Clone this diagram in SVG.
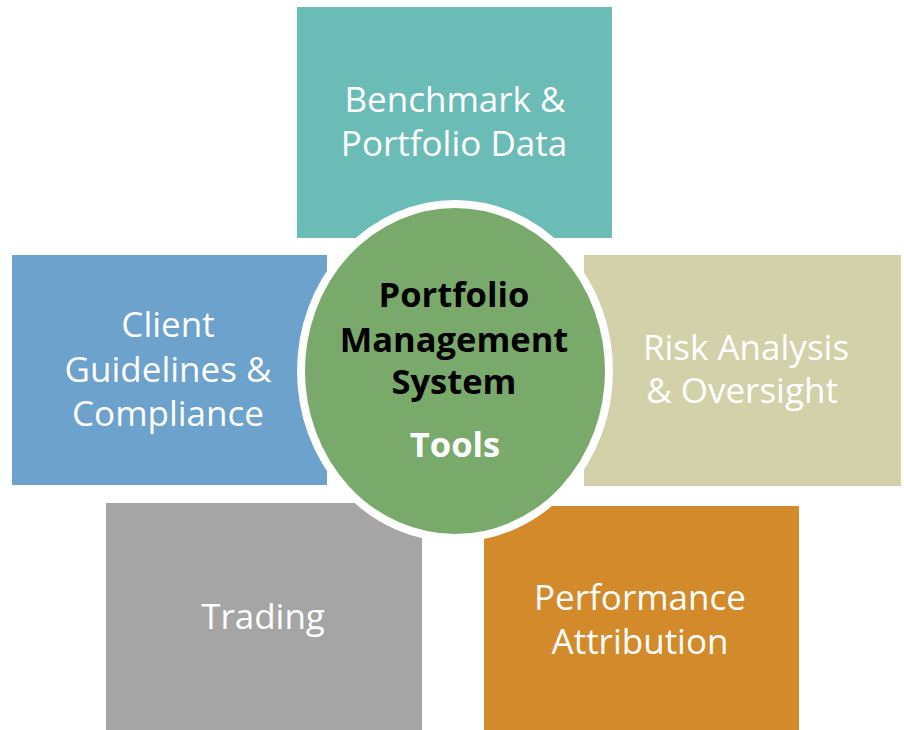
<svg xmlns="http://www.w3.org/2000/svg" width="904" height="730" viewBox="0 0 904 730">
<style>
.lbl{font-family:"Open Sans","Noto Sans","Liberation Sans",sans-serif;font-size:35px;fill:#fff;text-anchor:middle}
.ctr{font-family:"Open Sans","Noto Sans","Liberation Sans",sans-serif;font-size:34.5px;font-weight:bold;text-anchor:middle}
</style>
<rect width="904" height="730" fill="#fff"/>
<g id="benchmark">
<rect x="297" y="7" width="315" height="231" fill="#6BBBB6"/>
<text class="lbl" x="455" y="112">Benchmark &amp;</text>
<text class="lbl" x="454" y="156">Portfolio Data</text>
</g>
<g id="client">
<rect x="12" y="255" width="315" height="230" fill="#6CA2CC"/>
<text class="lbl" x="168" y="337">Client</text>
<text class="lbl" x="168" y="382">Guidelines &amp;</text>
<text class="lbl" x="168" y="426">Compliance</text>
</g>
<g id="risk">
<rect x="584" y="255" width="317" height="231" fill="#D3D1AA"/>
<text class="lbl" x="746" y="360">Risk Analysis</text>
<text class="lbl" x="742" y="403">&amp; Oversight</text>
</g>
<g id="trading">
<rect x="106" y="503" width="316" height="227" fill="#A5A5A5"/>
<text class="lbl" x="263" y="629">Trading</text>
</g>
<g id="performance">
<rect x="484" y="506" width="315" height="224" fill="#D38A2A"/>
<text class="lbl" x="640" y="610">Performance</text>
<text class="lbl" x="640" y="654">Attribution</text>
</g>
<g id="center">
<ellipse cx="455" cy="371" rx="154" ry="167" fill="#79AA6B" stroke="#fff" stroke-width="8"/>
<text class="ctr" x="454" y="307" fill="#000">Portfolio</text>
<text class="ctr" x="454" y="352" fill="#000">Management</text>
<text class="ctr" x="454" y="394" fill="#000">System</text>
<text class="ctr" x="455" y="457" fill="#fff">Tools</text>
</g>
<g id="connectors"></g>
</svg>
